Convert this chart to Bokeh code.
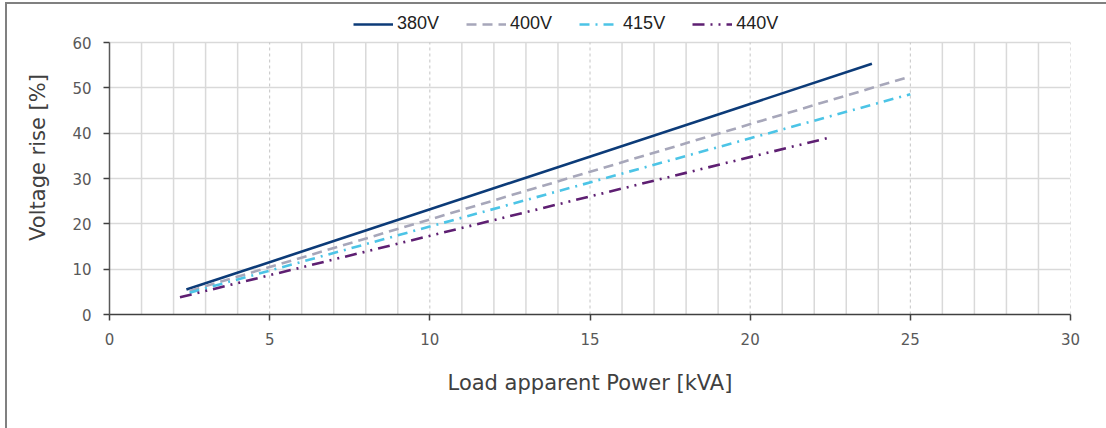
from bokeh.plotting import figure
from bokeh.models import (Range1d, FixedTicker, Legend, LegendItem,
                          ColumnDataSource)
from bokeh.embed import file_html
from bokeh.resources import INLINE

# ---- data ----
series_names = ["380V", "400V", "415V", "440V"]
kva_380 = [2.4, 23.8]
rise_380 = [5.5, 55.3]
kva_400 = [2.5, 25.0]
rise_400 = [5.2, 52.5]
kva_415 = [2.5, 25.0]
rise_415 = [4.8, 48.6]
kva_440 = [2.2, 22.4]
rise_440 = [3.8, 38.9]
x_ticks = [0, 5, 10, 15, 20, 25, 30]
x_minor = [1, 2, 3, 4, 6, 7, 8, 9, 11, 12, 13, 14, 16, 17, 18, 19,
           21, 22, 23, 24, 26, 27, 28, 29]
y_ticks = [0, 10, 20, 30, 40, 50, 60]

colors = ["#0c3b78", "#a7a7ba", "#4cc4e6", "#5e1f72"]
dashes = ["solid", "10 6", "10 6 2 6", "12 6 2 6 2 6"]

# layout (pixels)
W, H = 1106, 428
frame_left, frame_right, frame_bottom, top_60 = 109, 1070, 314, 42
y_top = y_ticks[-1] * frame_bottom / (frame_bottom - top_60)

p = figure(width=W, height=H, output_backend="svg", toolbar_location=None,
           x_range=Range1d(0, 30), y_range=Range1d(0, y_top),
           min_border_left=frame_left, min_border_right=W - frame_right,
           min_border_top=0, min_border_bottom=H - frame_bottom)
p.outline_line_color = None
p.background_fill_alpha = 0
p.border_fill_alpha = 0
p.styles = {"box-shadow": "inset 5px 2px 0 0 #ffffff, inset 7px 4px 0 0 #808080"}

# grids
p.xgrid.visible = False
p.ygrid.ticker = FixedTicker(ticks=y_ticks[1:])
p.ygrid.grid_line_color = "#d9d9d9"
p.ygrid.grid_line_width = 1.5
p.segment(x0=x_minor, y0=[y_ticks[0]] * len(x_minor), x1=x_minor,
          y1=[y_ticks[-1]] * len(x_minor), line_color="#d9d9d9", line_width=1.5)
major = x_ticks[1:]
p.segment(x0=major, y0=[y_ticks[0]] * len(major), x1=major,
          y1=[y_ticks[-1]] * len(major), line_color="#c4c4c4", line_width=1,
          line_dash="3 3")

font = "DejaVu Sans"
for ax in (p.xaxis[0], p.yaxis[0]):
    ax.major_label_text_font = font
    ax.major_label_text_font_size = "15px"
    ax.major_label_text_color = "#595959"
    ax.axis_label_text_font = font
    ax.axis_label_text_font_size = "21px"
    ax.axis_label_text_font_style = "normal"
    ax.axis_label_text_color = "#404040"
    ax.minor_tick_line_color = None
    ax.major_tick_in = 0
    ax.major_tick_out = 6
    ax.major_tick_line_color = "#404040"
    ax.major_tick_line_width = 1.5
    ax.axis_line_width = 1.5

p.xaxis.ticker = FixedTicker(ticks=x_ticks)
p.yaxis.ticker = FixedTicker(ticks=y_ticks)
p.yaxis.bounds = (y_ticks[0], y_ticks[-1])
p.xaxis.axis_line_color = "#404040"
p.yaxis.axis_line_color = "#595959"
p.xaxis.axis_label = "Load apparent Power [kVA]"
p.yaxis.axis_label = "Voltage rise [%]"
p.xaxis.major_label_standoff = 12
p.yaxis.major_label_standoff = 12
p.xaxis.axis_label_standoff = 23
p.yaxis.axis_label_standoff = 19

xs = [kva_380, kva_400, kva_415, kva_440]
ys = [rise_380, rise_400, rise_415, rise_440]
items = []
for name, xv, yv, c, d in zip(series_names, xs, ys, colors, dashes):
    src = ColumnDataSource(dict(x=xv, y=yv))
    r = p.line("x", "y", source=src, line_color=c, line_width=2.6, line_dash=d)
    items.append(LegendItem(label=name, renderers=[r]))

legend = Legend(items=items, orientation="horizontal",
                location=(353 - frame_left, frame_bottom - 34),
                label_text_font="Liberation Sans", label_text_font_size="18px",
                label_text_color="#222222",
                glyph_width=40, glyph_height=20, label_height=20,
                label_standoff=4, spacing=27, padding=2, margin=0,
                border_line_color=None, background_fill_alpha=0)
p.add_layout(legend, "center")

open("out.html", "w").write(file_html(p, INLINE))
